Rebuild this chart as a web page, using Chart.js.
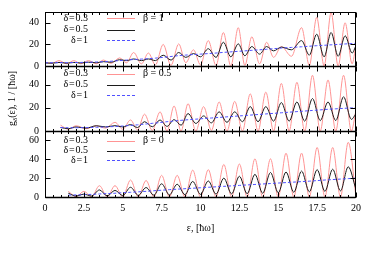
<!DOCTYPE html>
<html>
<head>
<meta charset="utf-8">
<script src="https://cdn.jsdelivr.net/npm/chart.js@4.4.0/dist/chart.umd.min.js"></script>
<style>
  html, body { margin: 0; padding: 0; background: #fff; }
  #wrap { position: relative; width: 375px; height: 263px; }
  #wrap canvas { position: absolute; left: 0; top: 0; }
</style>
</head>
<body>
<div id="wrap">
  <canvas id="c1" width="375" height="263"></canvas>
  <canvas id="c2" width="375" height="263"></canvas>
  <canvas id="c3" width="375" height="263"></canvas>
</div>
<script>
// series labels (hair spaces round '=' like the gnuplot key)
const deltaLabels = ['δ\u200A=\u200A0.3', 'δ\u200A=\u200A0.5', 'δ\u200A=\u200A1'];
const betaLabels = ['β = 1', 'β = 0.5', 'β = 0'];

// panel 1 (beta = 1): energies at peaks / troughs
const p1x = [0, 0.45, 0.9, 1.4, 1.85, 2.3, 2.8, 3.3, 3.75, 4.25, 4.8, 5.25, 5.7, 6.2, 6.65, 7.1, 7.6, 8.1, 8.6, 9.05,
  9.55, 10.0, 10.5, 11.0, 11.47, 11.95, 12.43, 12.85, 13.3, 13.8, 14.25, 14.7, 15.2, 15.85, 16.5, 17.0, 17.47, 17.95,
  18.4, 18.85, 19.3, 19.75, 20];
const p1d03 = [3.5, 2.5, 5, 2, 5, 2, 5, 2, 5.5, 2.5, 7.5, 3, 12.5, 2, 12, 1, 20, 0.5, 20.5, 3,
  15, 1, 23.5, 0.5, 31, 0, 35.5, 0.5, 27, 2, 22, 8, 18, 9, 35.5, 0.5, 45, 0,
  49.5, 0, 40, 2, 20];
const p1d05 = [2.8, 2.6, 3.3, 2.6, 3.3, 2.8, 3.5, 3.0, 4.0, 3.5, 5.8, 5.0, 6.5, 5.0, 6.5, 5.0, 10, 5.5, 12.5, 8,
  11.5, 8.5, 16, 8, 22, 8.5, 20.5, 9.5, 18, 11, 18, 14, 17.5, 15, 23.5, 10, 29.5, 8.5,
  31, 9, 28, 12, 19];
const p1d1 = [3.0, 3.0, 3.1, 3.1, 3.2, 3.3, 3.5, 3.7, 4.0, 4.4, 5.0, 5.5, 6.0, 6.4, 6.8, 7.3, 8.0, 8.8, 9.6, 10.1,
  10.6, 11.0, 11.5, 12.0, 12.6, 13.1, 13.6, 14.0, 14.5, 15.0, 15.5, 16.0, 16.6, 17.2, 17.8, 18.3, 18.8, 19.2,
  19.6, 20.0, 20.4, 20.8, 21.0];

// panel 2 (beta = 0.5)
const p2x = [1.0, 1.5, 2.0, 2.65, 3.3, 3.9, 4.5, 5.0, 5.5, 5.95, 6.4, 6.9, 7.4, 7.85, 8.3, 8.75, 9.2, 9.7, 10.2, 10.7,
  11.2, 11.7, 12.2, 12.7, 13.2, 13.7, 14.2, 14.7, 15.2, 15.7, 16.2, 16.7, 17.2, 17.7, 18.2, 18.7, 19.2, 19.7, 20];
const p2d03 = [5, 1.5, 4.5, 2, 4.5, 2.5, 7.5, 1.5, 9.5, 1, 14.5, 0.5, 16.5, 0, 21.5, 0, 23.5, 0, 21, 0.5,
  25, 0, 25.5, 0, 32, 0, 33.5, 0, 41, 0, 42, 0, 48, 0, 44, 0, 48, 0, 18];
const p2d05 = [3, 2, 3.5, 2.5, 4.5, 3.5, 4.6, 3.5, 5.5, 3, 8, 3.7, 9.4, 4, 9.8, 5, 15, 6.5, 13, 7,
  16.5, 7.5, 16.5, 8, 21, 8, 21, 8.5, 24.5, 8.5, 25, 8.5, 28, 9, 25, 9, 29.5, 10, 15];
const p2d1 = [3, 2.8, 2.8, 3, 3.2, 3.5, 3.9, 4.3, 4.8, 5.3, 5.9, 6.6, 7.3, 8, 8.6, 9.2, 9.7, 10.2, 10.7, 11.2,
  11.7, 12.2, 12.7, 13.2, 13.7, 14.2, 14.7, 15.2, 15.7, 16.2, 16.7, 17.2, 17.7, 18.2, 18.7, 19.1, 19.5, 19.9, 20.2];

// panel 3 (beta = 0)
const p3x = [1.5, 2, 2.5, 3, 3.5, 4, 4.5, 5, 5.5, 6, 6.5, 7, 7.5, 8, 8.5, 9, 9.5, 10, 10.5, 11,
  11.5, 12, 12.5, 13, 13.5, 14, 14.5, 15, 15.5, 16, 16.5, 17, 17.5, 18, 18.5, 19, 19.5, 20];
const p3d03 = [6, 0.3, 6, 0.3, 12, 0.2, 12, 0.2, 18, 0.1, 17.5, 0, 23, 0, 23, 0, 28.5, 0, 29, 0,
  34.5, 0, 35, 0, 40.5, 0, 40.5, 0, 46.5, 0, 46.5, 0, 52.5, 0, 52.5, 0, 58, 0.5];
const p3d05 = [4, 1, 3, 1, 7.5, 1.2, 7, 1.5, 10.3, 1.8, 10, 2, 14, 2.3, 13.5, 2.5, 16.5, 2.8, 17, 3,
  20, 3.3, 22, 3.5, 24, 4, 26, 4.5, 26.5, 5, 27.5, 5.5, 29, 6, 29.5, 6.5, 32, 8];
const p3d1 = [2, 2.2, 2.5, 2.8, 3.2, 3.6, 4, 4.5, 5, 5.5, 6, 6.6, 7.2, 7.8, 8.3, 8.8, 9.3, 9.8, 10.3, 10.8,
  11.3, 11.8, 12.3, 12.8, 13.3, 13.8, 14.3, 14.8, 15.3, 15.8, 16.3, 16.8, 17.4, 18, 18.5, 19, 19.5, 20];

const FONT = '"Liberation Serif", "Times New Roman", serif';
const colors = ['#ff9494', '#1c1c1c', '#5050ff'];
const dashes = [[], [], [3, 2]];

// frame, inward ticks, key and y title (gnuplot look)
const deco = {
  id: 'panelDeco',
  afterDraw(chart, args, opts) {
    const { ctx, chartArea: a } = chart;
    const x = chart.scales.x, y = chart.scales.y;
    const L = a.left + 0.5, R = a.right - 0.5, T = a.top + 0.5, B = a.bottom + 0.5;
    ctx.save();
    ctx.strokeStyle = '#000';
    ctx.lineWidth = 1;
    ctx.strokeRect(L, T, R - L, B - T);
    // zero axis drawn a bit heavier
    ctx.lineWidth = 1.6;
    ctx.beginPath();
    ctx.moveTo(L, B); ctx.lineTo(R, B);
    ctx.stroke();
    ctx.lineWidth = 1;
    ctx.beginPath();
    for (let v = 0; v <= 20.001; v += 0.5) {
      const px = Math.round(x.getPixelForValue(v)) + 0.5;
      const len = Math.abs(v / 2.5 - Math.round(v / 2.5)) < 1e-6 ? 5 : 2.5;
      ctx.moveTo(px, B); ctx.lineTo(px, B - len);
      ctx.moveTo(px, T); ctx.lineTo(px, T + len);
    }
    y.ticks.forEach(t => {
      const py = Math.round(y.getPixelForValue(t.value)) + 0.5;
      const len = t.value % 20 === 0 ? 5 : 3;
      ctx.moveTo(L, py); ctx.lineTo(L + len, py);
      ctx.moveTo(R, py); ctx.lineTo(R - len, py);
    });
    ctx.stroke();

    // key
    ctx.font = '10px ' + FONT;
    ctx.fillStyle = '#000';
    ctx.textBaseline = 'middle';
    chart.data.datasets.forEach((ds, i) => {
      const ry = opts.rows[i];
      ctx.textAlign = 'right';
      ctx.fillText(ds.label, 88, ry);
      ctx.strokeStyle = ds.borderColor;
      ctx.setLineDash(ds.borderDash || []);
      ctx.beginPath();
      ctx.moveTo(107, Math.round(ry) + 0.5);
      ctx.lineTo(135, Math.round(ry) + 0.5);
      ctx.stroke();
      ctx.setLineDash([]);
    });
    ctx.textAlign = 'left';
    ctx.fillText(opts.beta, 143, opts.rows[0]);

    if (opts.yTitle) {
      ctx.translate(12, 98.5);
      ctx.rotate(-Math.PI / 2);
      const parts = [['g', 10, 0], ['δ', 7, 3], ['(ε), 1 / [ħω]', 10, 0]];
      let w = 0;
      parts.forEach(p => { ctx.font = p[1] + 'px ' + FONT; w += ctx.measureText(p[0]).width; });
      let cx = -w / 2;
      ctx.textAlign = 'left';
      parts.forEach(p => {
        ctx.font = p[1] + 'px ' + FONT;
        ctx.fillText(p[0], cx, p[2]);
        cx += ctx.measureText(p[0]).width;
      });
    }
    ctx.restore();
  }
};

function points(xs, ys) {
  return xs.map((x, i) => ({ x: x, y: ys[i] }));
}

function makePanel(id, xs, series, yMax, beta, rows, padTop, padBottom, showX, yTitle) {
  return new Chart(document.getElementById(id), {
    type: 'line',
    data: {
      datasets: series.map((ys, i) => ({
        label: deltaLabels[i],
        data: points(xs, ys),
        borderColor: colors[i],
        borderWidth: 1,
        borderDash: dashes[i],
        pointRadius: 0,
        cubicInterpolationMode: 'monotone',
        order: 3 - i
      }))
    },
    options: {
      responsive: false,
      animation: false,
      devicePixelRatio: 1,
      layout: { padding: { left: 0, right: 19, top: padTop, bottom: padBottom } },
      plugins: {
        legend: { display: false },
        tooltip: { enabled: false },
        panelDeco: { beta: beta, rows: rows, yTitle: yTitle }
      },
      scales: {
        x: {
          type: 'linear',
          min: 0,
          max: 20,
          display: showX,
          grid: { display: false, drawTicks: false },
          border: { display: false },
          ticks: {
            stepSize: 2.5,
            padding: 5,
            maxRotation: 0,
            autoSkip: false,
            color: '#000',
            font: { family: FONT, size: 10 }
          },
          title: {
            display: true,
            text: 'ε, [ħω]',
            color: '#000',
            font: { family: FONT, size: 10 },
            padding: { top: 2, bottom: 3 }
          },
          afterFit: showX ? (s => { s.height = 40; }) : undefined
        },
        y: {
          min: 0,
          max: yMax,
          grid: { display: false, drawTicks: false },
          border: { display: false },
          ticks: {
            stepSize: 10,
            includeBounds: false,
            padding: 6,
            color: '#000',
            font: { family: FONT, size: 10 },
            callback: v => (v % 20 === 0 ? v : '')
          },
          afterFit: s => { s.width = 45; }
        }
      }
    },
    plugins: [deco]
  });
}

makePanel('c1', p1x, [p1d03, p1d05, p1d1], 50, betaLabels[0], [18, 29.5, 40], 11, 197, false, false);
makePanel('c2', p2x, [p2d03, p2d05, p2d1], 56, betaLabels[1], [73.5, 84.5, 95], 66, 132, false, true);
makePanel('c3', p3x, [p3d03, p3d05, p3d1], 70, betaLabels[2], [140.5, 150.5, 160], 131, 26, true, false);
</script>
</body>
</html>
